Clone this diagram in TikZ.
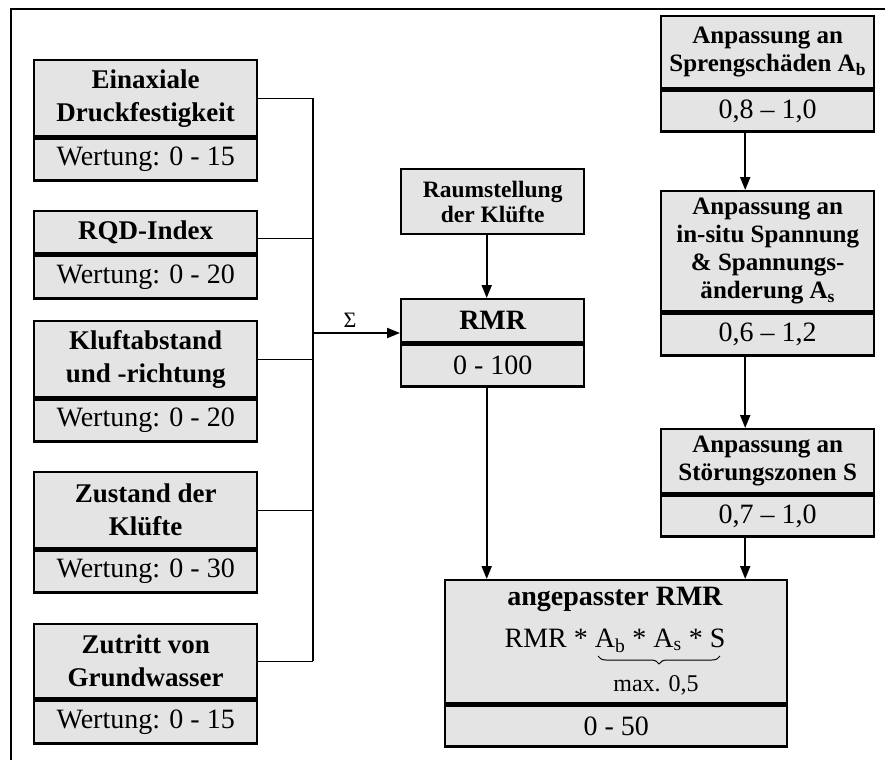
\documentclass[tikz,border=0pt]{standalone}
\usepackage{fontspec}
\setmainfont{Liberation Serif}
\usetikzlibrary{arrows.meta,decorations.pathreplacing,calc}
\definecolor{boxgray}{HTML}{E4E4E4}
\tikzset{
 box/.style={draw=black, fill=boxgray, line width=2.4pt, inner sep=0pt, align=center, anchor=north west},
 ttl/.style={box, font=\fontsize{27}{33}\selectfont\bfseries},
 rttl/.style={box, font=\fontsize{25}{28}\selectfont\bfseries},
 val/.style={box, font=\fontsize{28}{33}\selectfont},
 conn/.style={line width=1.3pt},
 arr/.style={line width=2pt, -{Triangle[length=13pt,width=10pt]}},
 frameline/.style={line width=2.5pt},
}
\begin{document}
\begin{tikzpicture}[x=1pt,y=-1pt]
\useasboundingbox (0,0) rectangle (885,760);
\draw[frameline] (11,760) -- (11,9) -- (885,9);

% left column
\node[ttl, minimum width=223pt, minimum height=76pt] (e1) at (33,59) {Einaxiale\\Druckfestigkeit};
\node[val, minimum width=223pt, minimum height=42pt] (e1v) at (e1.south west) {Wertung: 0 - 15};
\node[ttl, minimum width=223pt, minimum height=42pt] (e2) at (33,210) {RQD-Index};
\node[val, minimum width=223pt, minimum height=43pt] (e2v) at (e2.south west) {Wertung: 0 - 20};
\node[ttl, minimum width=223pt, minimum height=76pt] (e3) at (33,320) {Kluftabstand\\und -richtung};
\node[val, minimum width=223pt, minimum height=42pt] (e3v) at (e3.south west) {Wertung: 0 - 20};
\node[ttl, minimum width=223pt, minimum height=76pt] (e4) at (33,471) {Zustand der\\Klüfte};
\node[val, minimum width=223pt, minimum height=42pt] (e4v) at (e4.south west) {Wertung: 0 - 30};
\node[ttl, minimum width=223pt, minimum height=74pt] (e5) at (33,623) {Zutritt von\\Grundwasser};
\node[val, minimum width=223pt, minimum height=43pt] (e5v) at (e5.south west) {Wertung: 0 - 15};

\coordinate (bus) at (313,0);
\draw[conn] (e1.east) -- (e1.east -| bus);
\draw[conn] ([yshift=-6pt]e2.east) -- ([yshift=-6pt]e2.east -| bus);
\draw[conn] (e3.east) -- (e3.east -| bus);
\draw[conn] (e4.east) -- (e4.east -| bus);
\draw[conn] (e5.east) -- (e5.east -| bus);
\draw[conn] (e1.east -| bus) -- (e5.east -| bus);

% middle column
\node[box, font=\fontsize{23.5}{25}\selectfont\bfseries, minimum width=183pt, minimum height=65pt] (raum) at (400,168) {Raumstellung\\der Klüfte};
\node[ttl, font=\fontsize{28}{33}\selectfont\bfseries, minimum width=183pt, minimum height=43pt] (rmr) at (400,298) {RMR};
\node[val, minimum width=183pt, minimum height=42pt] (rmrv) at (rmr.south west) {0 - 100};

\coordinate (sg) at (313,333);
\draw[arr] (sg) -- (sg -| rmr.west);
\node[font=\fontsize{22}{22}\selectfont, inner sep=0pt, anchor=base] (sigma) at (350,327) {Σ};
\draw[arr] ([xshift=-6pt]raum.south) -- ([xshift=-6pt]raum.south |- rmr.north);

% result box
\node[box, minimum width=342pt, minimum height=123pt] (ang) at (444,579) {};
\node[val, minimum width=342pt, minimum height=41pt] (angv) at (ang.south west) {0 - 50};
\node[anchor=base, inner sep=0pt, font=\fontsize{28}{33}\selectfont\bfseries] (angA) at (615,605) {angepasster RMR};
\node[anchor=base, inner sep=0pt, font=\fontsize{28}{33}\selectfont] (angF) at (615,647) {RMR * A\textsubscript{b} * A\textsubscript{s} * S};
\draw[line width=1pt, decorate, decoration={brace, amplitude=8pt, mirror}] (598,656) -- (720,656);
\node[anchor=base, inner sep=0pt, font=\fontsize{24}{26}\selectfont] (maxv) at (656,691) {max. 0,5};
\draw[arr] ([xshift=-6pt]rmrv.south) -- ([xshift=-6pt]rmrv.south |- ang.north);

% right column
\node[rttl, minimum width=213pt, minimum height=72pt] (ab) at (660,15) {Anpassung an\\Sprengschäden A\textsubscript{b}};
\node[val, minimum width=213pt, minimum height=41pt] (abv) at (ab.south west) {0,8 – 1,0};
\node[rttl, minimum width=213pt, minimum height=120pt] (as) at (660,190) {Anpassung an\\in-situ Spannung\\\& Spannungs-\\änderung A\textsubscript{s}};
\node[val, minimum width=213pt, minimum height=42pt] (asv) at (as.south west) {0,6 – 1,2};
\node[rttl, minimum width=213pt, minimum height=64pt] (st) at (660,428) {Anpassung an\\Störungszonen S};
\node[val, minimum width=213pt, minimum height=41pt] (stv) at (st.south west) {0,7 – 1,0};

\draw[arr] ([xshift=-22.5pt]abv.south) -- ([xshift=-22.5pt]abv.south |- as.north);
\draw[arr] ([xshift=-22.5pt]asv.south) -- ([xshift=-22.5pt]asv.south |- st.north);
\draw[arr] ([xshift=-22.5pt]stv.south) -- ([xshift=-22.5pt]stv.south |- ang.north);
\end{tikzpicture}
\end{document}
